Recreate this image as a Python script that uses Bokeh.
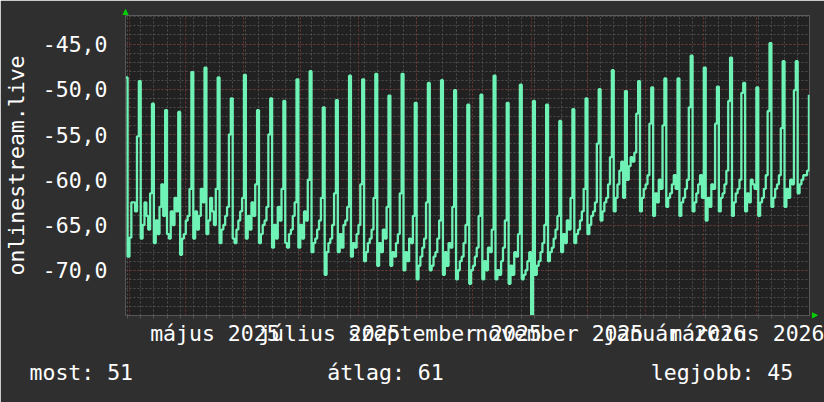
import datetime as dt
from bokeh.plotting import figure
from bokeh.models import FixedTicker, Range1d, ColumnDataSource, Title
from bokeh.embed import file_html
from bokeh.resources import INLINE

# ---------------- data ----------------
start_date = dt.date(2025, 3, 30)          # first daily sample (Sunday)
values = [
    -48.7, -68.5, -66.4, -62.5, -62.5, -63.5, -55.2,
    -49.1, -66.5, -65.0, -62.5, -64.0, -65.5, -61.5,
    -51.6, -67.0, -64.5, -66.0, -63.0, -60.5, -64.0,
    -52.3, -66.0, -66.5, -63.5, -65.0, -62.0, -63.5,
    -52.5, -68.3, -66.5, -66.0, -64.5, -64.0, -61.0,
    -48.1, -66.5, -63.5, -65.5, -64.0, -61.0, -62.5,
    -47.6, -66.0, -64.5, -62.0, -63.5, -65.0, -61.0,
    -48.7, -67.0, -65.5, -65.0, -64.0, -63.0, -55.0,
    -51.0, -66.5, -67.0, -65.5, -64.5, -63.5, -62.0,
    -48.4, -66.5, -64.0, -65.5, -62.5, -64.0, -60.5,
    -52.3, -67.0, -66.0, -65.0, -64.5, -63.0, -55.0,
    -51.0, -67.5, -65.0, -66.5, -63.0, -64.5, -61.0,
    -51.3, -67.0, -67.5, -66.0, -65.5, -64.0, -62.5,
    -48.9, -67.5, -65.0, -66.5, -63.5, -64.5, -60.0,
    -48.0, -68.0, -67.0, -66.5, -65.5, -64.5, -62.0,
    -52.0, -70.5, -68.0, -67.0, -66.5, -65.0, -61.5,
    -51.2, -68.0, -66.0, -67.5, -65.0, -64.5, -63.0,
    -48.5, -68.5, -67.0, -67.5, -66.0, -65.0, -60.5,
    -48.9, -69.0, -68.0, -67.0, -66.5, -65.5, -62.0,
    -48.3, -69.5, -67.0, -68.0, -65.5, -66.5, -63.0,
    -50.7, -69.5, -68.0, -68.5, -67.0, -66.0, -61.5,
    -48.3, -70.0, -68.0, -69.0, -66.5, -67.0, -64.0,
    -51.5, -71.0, -69.5, -68.5, -67.5, -66.5, -62.5,
    -49.3, -70.0, -69.5, -68.5, -68.0, -66.5, -64.5,
    -49.0, -70.5, -68.0, -69.5, -67.0, -67.5, -63.0,
    -50.1, -71.0, -70.0, -69.0, -68.5, -67.0, -65.0,
    -51.7, -71.5, -70.0, -69.5, -68.5, -67.5, -64.0,
    -50.6, -71.0, -69.0, -70.0, -67.5, -68.0, -65.5,
    -48.5, -71.0, -70.0, -70.5, -69.0, -67.5, -64.5,
    -51.5, -71.5, -69.5, -70.5, -68.0, -68.5, -66.0,
    -49.5, -71.0, -70.5, -70.0, -69.0, -68.0, -75.0,
    -51.3, -70.5, -69.5, -69.0, -68.0, -67.0, -65.0,
    -51.7, -69.0, -68.0, -67.5, -66.5, -65.5, -64.0,
    -53.5, -68.0, -66.0, -67.0, -64.5, -65.5, -62.0,
    -52.2, -67.0, -66.0, -65.5, -64.5, -63.5, -61.0,
    -51.0, -66.0, -65.0, -64.0, -63.5, -62.5, -56.0,
    -50.0, -64.5, -63.5, -62.5, -62.0, -60.5, -57.5,
    -47.9, -63.5, -62.0, -60.5, -59.0, -58.0, -62.0,
    -50.2, -60.0, -58.5, -57.5, -58.0, -57.0, -52.7,
    -49.1, -63.5, -62.0, -61.0, -60.5, -59.5, -53.8,
    -49.8, -64.0, -61.5, -62.5, -60.0, -61.0, -54.0,
    -48.8, -63.0, -62.0, -61.5, -60.5, -59.5, -61.0,
    -48.8, -64.0, -62.5, -62.0, -61.0, -60.0, -52.0,
    -46.3, -63.5, -62.5, -61.5, -60.5, -59.5, -62.0,
    -47.6, -64.5, -62.0, -63.0, -60.5, -61.0, -53.8,
    -49.7, -63.5, -62.0, -61.5, -60.5, -59.0, -51.3,
    -46.5, -64.0, -62.5, -61.5, -61.0, -60.0, -50.4,
    -49.3, -63.5, -61.5, -62.5, -60.0, -60.5, -61.0,
    -49.8, -64.0, -62.5, -62.0, -61.0, -59.5, -52.4,
    -44.9, -63.0, -62.0, -61.0, -60.5, -59.5, -54.3,
    -46.9, -63.0, -61.0, -62.0, -60.0, -60.5, -50.1,
    -46.9, -61.5, -60.5, -60.0, -59.5, -59.5, -59.0,
    -50.6,
]

month_labels = ["május 2025", "július 2025", "szeptember 2025",
                "november 2025", "január 2026", "március 2026"]
label_months = [(2025, 5), (2025, 7), (2025, 9), (2025, 11), (2026, 1), (2026, 3)]
y_ticks = [-75, -70, -65, -60, -55, -50, -45]
y_labels = ["", "-70,0", "-65,0", "-60,0", "-55,0", "-50,0", "-45,0"]
y_title = "onlinestream.live"
stats = ["most: 51", "átlag: 61", "legjobb: 45"]

# ---------------- helpers ----------------
def day_index(d):
    return (d - start_date).days

def days_in_month(y, m):
    n = dt.date(y + (m == 12), m % 12 + 1, 1)
    return (n - dt.date(y, m, 1)).days

days = list(range(len(values)))

month_starts = []
d = dt.date(2025, 4, 1)
while d <= dt.date(2026, 3, 29):
    month_starts.append(day_index(d))
    d = dt.date(d.year + (d.month == 12), d.month % 12 + 1, 1)
mondays = [i for i in range(0, 366) if (start_date + dt.timedelta(days=i)).weekday() == 0]
label_pos = [day_index(dt.date(y, m, 1)) + days_in_month(y, m) / 2.0 for (y, m) in label_months]

FONT = "DejaVu Sans Mono"
FS = "21.5px"
BG = "#2f2f2f"
PLOT_BG = "#212121"
TXT = "#ffffff"
LINE = "#6ff2b5"
NBSP = "\u00a0"

W, H = 824, 402
ML, MR, MT, MB = 125, 15, 15, 87
X0, X1 = -0.11, 364.3
Y0, Y1 = -75.0, -41.85

p = figure(width=W, height=H, output_backend="svg", toolbar_location=None,
           x_range=Range1d(X0, X1), y_range=Range1d(Y0, Y1),
           min_border_left=ML, min_border_right=MR, min_border_top=MT,
           min_border_bottom=MB, background_fill_color=PLOT_BG,
           border_fill_color=BG, outline_line_color=None)

# grids
p.xgrid.ticker = FixedTicker(ticks=month_starts, minor_ticks=mondays)
p.xgrid.grid_line_color = "#6e3434"
p.xgrid.grid_line_dash = "2 2"
p.xgrid.minor_grid_line_color = "#4e4e4e"
p.xgrid.minor_grid_line_dash = "2 2"
p.ygrid.ticker = FixedTicker(ticks=y_ticks, minor_ticks=list(range(-75, -41)))
p.ygrid.grid_line_color = "#6e3434"
p.ygrid.grid_line_dash = "2 2"
p.ygrid.minor_grid_line_color = "#4e4e4e"
p.ygrid.minor_grid_line_dash = "2 2"

# axes
for ax in (p.xaxis[0], p.yaxis[0]):
    ax.axis_line_color = "#555555"
    ax.major_tick_line_color = None
    ax.major_tick_out = 0
    ax.major_tick_in = 0
    ax.major_label_text_font = FONT
    ax.major_label_text_font_size = FS
    ax.major_label_text_color = TXT

p.xaxis.ticker = FixedTicker(ticks=label_pos, minor_ticks=mondays)
p.xaxis.major_label_overrides = {float(t): s for t, s in zip(label_pos, month_labels)}
p.xaxis.minor_tick_line_color = "#555555"
p.xaxis.minor_tick_out = 3
p.xaxis.minor_tick_in = 0
p.xaxis.major_label_standoff = 2

p.yaxis.ticker = FixedTicker(ticks=y_ticks)
p.yaxis.major_label_overrides = {float(t): s for t, s in zip(y_ticks, y_labels)}
p.yaxis.minor_tick_line_color = None
p.yaxis.major_label_standoff = 18
p.yaxis.axis_label = y_title
p.yaxis.axis_label_text_font = FONT
p.yaxis.axis_label_text_font_size = FS
p.yaxis.axis_label_text_font_style = "normal"
p.yaxis.axis_label_text_color = TXT
p.yaxis.axis_label_standoff = 11

# data line
src = ColumnDataSource(dict(day=days, val=values))
p.step("day", "val", source=src, mode="after", line_color=LINE, line_width=2.3)

# stats line (monospace, columns 0 / 23 / 48 as in the reference)
stat_line = stats[0] + NBSP * (23 - len(stats[0])) + stats[1] + NBSP * (48 - 23 - len(stats[1])) + stats[2]
p.add_layout(Title(text=stat_line, align="left", offset=-96, standoff=22,
                   vertical_align="top", text_font=FONT, text_font_size=FS,
                   text_font_style="normal", text_color=TXT), "below")

# axis arrows
p.add_layout(Title(text="▲", align="left", offset=-3, standoff=0,
                   vertical_align="bottom", text_font="DejaVu Sans",
                   text_font_size="8px", text_font_style="normal",
                   text_color="#00d000"), "above")
p.add_layout(Title(text="▲", align="right", offset=-3, standoff=0,
                   vertical_align="middle", text_font="DejaVu Sans",
                   text_font_size="8px", text_font_style="normal",
                   text_color="#00d000"), "right")

open("out.html", "w").write(file_html(p, INLINE))
